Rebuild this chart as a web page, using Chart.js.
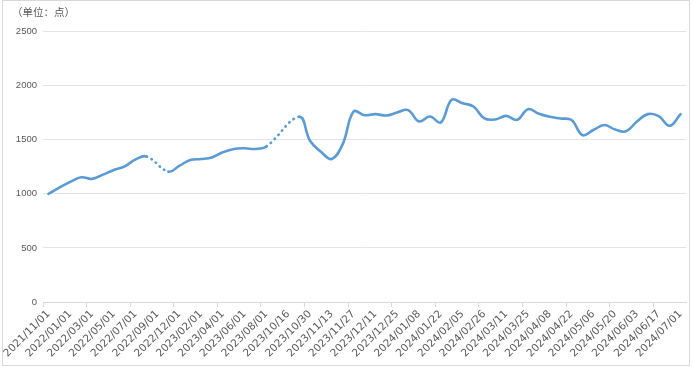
<!DOCTYPE html>
<html>
<head>
<meta charset="utf-8">
<script src="https://cdn.jsdelivr.net/npm/chart.js@4.4.1/dist/chart.umd.min.js"></script>
<style>
  body { margin: 0; background: #fff; }
  #frame { position: absolute; left: 2px; top: 0; width: 688px; height: 366px; border: 1px solid #d9d9d9; box-sizing: border-box; }
  #chart { position: absolute; left: 0; top: 0; }
</style>
</head>
<body>
<div id="frame"></div>
<canvas id="chart" width="693" height="368"></canvas>
<script>
// category dates (every second one is shown on the axis)
const dates = [
    "2021/11/01", "2021/12/01", "2022/01/01", "2022/02/01", "2022/03/01", "2022/04/01",
    "2022/05/01", "2022/06/01", "2022/07/01", "2022/08/01", "2022/09/01", "2022/11/01",
    "2022/12/01", "2023/01/01", "2023/02/01", "2023/03/01", "2023/04/01", "2023/05/01",
    "2023/06/01", "2023/07/01", "2023/08/01", "2023/09/01", "2023/10/16", "2023/10/23",
    "2023/10/30", "2023/11/06", "2023/11/13", "2023/11/20", "2023/11/27", "2023/12/04",
    "2023/12/11", "2023/12/18", "2023/12/25", "2024/01/01", "2024/01/08", "2024/01/15",
    "2024/01/22", "2024/01/29", "2024/02/05", "2024/02/19", "2024/02/26", "2024/03/04",
    "2024/03/11", "2024/03/18", "2024/03/25", "2024/04/01", "2024/04/08", "2024/04/15",
    "2024/04/22", "2024/04/29", "2024/05/06", "2024/05/13", "2024/05/20", "2024/05/27",
    "2024/06/03", "2024/06/10", "2024/06/17", "2024/06/24", "2024/07/01"
];

// index points, null = no data (drawn dotted across)
const points = [
    1000, 1058, 1110, 1153, 1138, 1178, 1221, 1254, 1319, 1346, null, 1205,
    1258, 1313, 1322, 1337, 1384, 1415, 1421, 1415, 1438, null, null, 1712,
    1491, 1390, 1322, 1460, 1761, 1727, 1737, 1724, 1752, 1774, 1669, 1715,
    1660, 1869, 1838, 1807, 1697, 1688, 1721, 1684, 1783, 1740, 1712, 1697,
    1682, 1543, 1590, 1636, 1594, 1578, 1669, 1737, 1718, 1629, 1737
];

const yMin = 0;
const yMax = 2500;
const yStep = 500;
const unitLabel = "（单位：点）";

const gapDash = (ctx) => (ctx.p0.skip || ctx.p1.skip) ? [0.5, 5] : undefined;

const ctx = document.getElementById("chart").getContext("2d");

new Chart(ctx, {
    type: 'line',
    data: {
        labels: dates,
        datasets: [{
            data: points,
            borderColor: '#5b9bd5',
            borderWidth: 2.6,
            borderCapStyle: 'round',
            borderJoinStyle: 'round',
            pointRadius: 0,
            tension: 0.4,
            spanGaps: true,
            segment: {
                borderDash: gapDash
            }
        }]
    },
    options: {
        responsive: false,
        animation: false,
        layout: {
            padding: { left: 12, right: 7, top: 4, bottom: 6 }
        },
        plugins: {
            legend: { display: false },
            tooltip: { enabled: false },
            title: {
                display: true,
                text: unitLabel,
                align: 'start',
                color: '#595959',
                font: { family: '"Noto Sans CJK SC", sans-serif', size: 10.5, weight: 'normal' },
                padding: { top: 2, bottom: 13 }
            }
        },
        scales: {
            x: {
                type: 'category',
                offset: true,
                afterFit: (scale) => { scale.height = 60; },
                grid: {
                    offset: true,
                    drawOnChartArea: false,
                    tickLength: 5,
                    color: (c) => c.index % 4 === 0 ? '#d9d9d9' : 'rgba(0,0,0,0)'
                },
                border: { display: true, color: '#d9d9d9' },
                ticks: {
                    autoSkip: false,
                    maxRotation: 45,
                    minRotation: 45,
                    padding: 1,
                    color: '#595959',
                    font: { family: '"DejaVu Sans", sans-serif', size: 10.5 },
                    callback: function (value, index) {
                        return index % 2 === 0 ? this.getLabelForValue(value) : '';
                    }
                }
            },
            y: {
                min: yMin,
                max: yMax,
                afterFit: (scale) => { scale.width = 31; },
                grid: {
                    color: '#e3e3e3',
                    drawTicks: false
                },
                border: { display: false },
                ticks: {
                    stepSize: yStep,
                    padding: 6,
                    color: '#595959',
                    font: { family: '"Liberation Sans", sans-serif', size: 9.5 },
                    callback: (value) => String(value)
                }
            }
        }
    }
});
</script>
</body>
</html>
